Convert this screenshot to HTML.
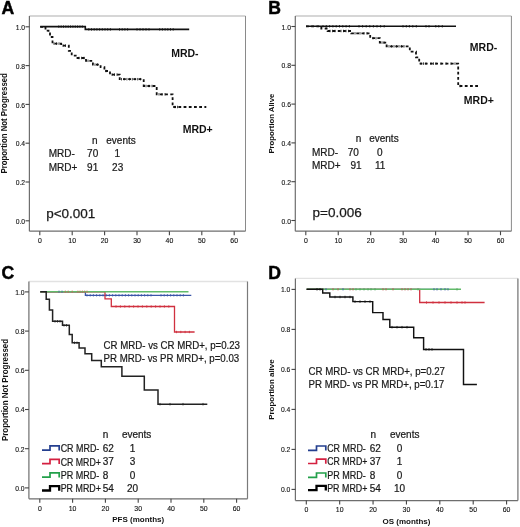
<!DOCTYPE html>
<html><head><meta charset="utf-8"><style>
html,body{margin:0;padding:0;background:#fff;}
svg{display:block;will-change:transform;}
text{font-family:"Liberation Sans", sans-serif;fill:#1a1a1a;}
.tk{font-size:6.6px;fill:#111;stroke:#111;stroke-width:0.12px;}
.let{font-size:17.6px;font-weight:bold;fill:#000;stroke:#000;stroke-width:0.45px;}
.yt{font-size:8.8px;font-weight:bold;fill:#111;}
.xt{font-size:8px;font-weight:bold;fill:#111;}
.t{font-size:10px;stroke:#1a1a1a;stroke-width:0.22px;}
.lg{font-size:10.2px;stroke:#1a1a1a;stroke-width:0.22px;}
.lb{font-size:10.5px;font-weight:bold;fill:#111;}
.pv{font-size:13.5px;stroke:#1a1a1a;stroke-width:0.25px;}
</style></head><body>
<svg width="520" height="527" viewBox="0 0 520 527">
<rect width="520" height="527" fill="#fff"/>
<line x1="29.4" y1="16" x2="245.5" y2="16" stroke="#c8c8c8" stroke-width="1.3"/>
<line x1="245.5" y1="16" x2="245.5" y2="231.2" stroke="#8a8a8a" stroke-width="1.0"/>
<line x1="29.4" y1="16" x2="29.4" y2="231.2" stroke="#6e6e6e" stroke-width="1.2"/>
<line x1="29.4" y1="231.2" x2="245.5" y2="231.2" stroke="#6e6e6e" stroke-width="1.2"/>
<line x1="25.5" y1="220.8" x2="29.4" y2="220.8" stroke="#444" stroke-width="1.1"/>
<text x="25.1" y="223.9" class="tk" style="font-size:7.2px" text-anchor="end" textLength="9.4" lengthAdjust="spacingAndGlyphs">0.0</text>
<line x1="25.5" y1="182" x2="29.4" y2="182" stroke="#444" stroke-width="1.1"/>
<text x="25.1" y="185.1" class="tk" style="font-size:7.2px" text-anchor="end" textLength="9.4" lengthAdjust="spacingAndGlyphs">0.2</text>
<line x1="25.5" y1="143.2" x2="29.4" y2="143.2" stroke="#444" stroke-width="1.1"/>
<text x="25.1" y="146.3" class="tk" style="font-size:7.2px" text-anchor="end" textLength="9.4" lengthAdjust="spacingAndGlyphs">0.4</text>
<line x1="25.5" y1="104.4" x2="29.4" y2="104.4" stroke="#444" stroke-width="1.1"/>
<text x="25.1" y="107.5" class="tk" style="font-size:7.2px" text-anchor="end" textLength="9.4" lengthAdjust="spacingAndGlyphs">0.6</text>
<line x1="25.5" y1="65.6" x2="29.4" y2="65.6" stroke="#444" stroke-width="1.1"/>
<text x="25.1" y="68.7" class="tk" style="font-size:7.2px" text-anchor="end" textLength="9.4" lengthAdjust="spacingAndGlyphs">0.8</text>
<line x1="25.5" y1="26.8" x2="29.4" y2="26.8" stroke="#444" stroke-width="1.1"/>
<text x="25.1" y="29.9" class="tk" style="font-size:7.2px" text-anchor="end" textLength="9.4" lengthAdjust="spacingAndGlyphs">1.0</text>
<line x1="39.8" y1="231.2" x2="39.8" y2="235.2" stroke="#444" stroke-width="1.1"/>
<text x="39.8" y="242.9" class="tk" style="font-size:6.9px" text-anchor="middle">0</text>
<line x1="72.2" y1="231.2" x2="72.2" y2="235.2" stroke="#444" stroke-width="1.1"/>
<text x="72.2" y="242.9" class="tk" style="font-size:6.9px" text-anchor="middle">10</text>
<line x1="104.6" y1="231.2" x2="104.6" y2="235.2" stroke="#444" stroke-width="1.1"/>
<text x="104.6" y="242.9" class="tk" style="font-size:6.9px" text-anchor="middle">20</text>
<line x1="137" y1="231.2" x2="137" y2="235.2" stroke="#444" stroke-width="1.1"/>
<text x="137" y="242.9" class="tk" style="font-size:6.9px" text-anchor="middle">30</text>
<line x1="169.4" y1="231.2" x2="169.4" y2="235.2" stroke="#444" stroke-width="1.1"/>
<text x="169.4" y="242.9" class="tk" style="font-size:6.9px" text-anchor="middle">40</text>
<line x1="201.8" y1="231.2" x2="201.8" y2="235.2" stroke="#444" stroke-width="1.1"/>
<text x="201.8" y="242.9" class="tk" style="font-size:6.9px" text-anchor="middle">50</text>
<line x1="234.2" y1="231.2" x2="234.2" y2="235.2" stroke="#444" stroke-width="1.1"/>
<text x="234.2" y="242.9" class="tk" style="font-size:6.9px" text-anchor="middle">60</text>
<text x="1.6" y="13.9" class="let">A</text>
<text x="-50.2" y="0" class="yt" style="font-size:8.2px" textLength="100.4" lengthAdjust="spacingAndGlyphs" transform="translate(7,123.3) rotate(-90)">Proportion Not Progressed</text>
<line x1="295.3" y1="16" x2="511.4" y2="16" stroke="#c8c8c8" stroke-width="1.3"/>
<line x1="511.4" y1="16" x2="511.4" y2="231.2" stroke="#8a8a8a" stroke-width="1.0"/>
<line x1="295.3" y1="16" x2="295.3" y2="231.2" stroke="#6e6e6e" stroke-width="1.2"/>
<line x1="295.3" y1="231.2" x2="511.4" y2="231.2" stroke="#6e6e6e" stroke-width="1.2"/>
<line x1="291.4" y1="220.5" x2="295.3" y2="220.5" stroke="#444" stroke-width="1.1"/>
<text x="291" y="223.6" class="tk" style="font-size:7.2px" text-anchor="end" textLength="9.4" lengthAdjust="spacingAndGlyphs">0.0</text>
<line x1="291.4" y1="181.7" x2="295.3" y2="181.7" stroke="#444" stroke-width="1.1"/>
<text x="291" y="184.8" class="tk" style="font-size:7.2px" text-anchor="end" textLength="9.4" lengthAdjust="spacingAndGlyphs">0.2</text>
<line x1="291.4" y1="142.9" x2="295.3" y2="142.9" stroke="#444" stroke-width="1.1"/>
<text x="291" y="146" class="tk" style="font-size:7.2px" text-anchor="end" textLength="9.4" lengthAdjust="spacingAndGlyphs">0.4</text>
<line x1="291.4" y1="104.1" x2="295.3" y2="104.1" stroke="#444" stroke-width="1.1"/>
<text x="291" y="107.2" class="tk" style="font-size:7.2px" text-anchor="end" textLength="9.4" lengthAdjust="spacingAndGlyphs">0.6</text>
<line x1="291.4" y1="65.3" x2="295.3" y2="65.3" stroke="#444" stroke-width="1.1"/>
<text x="291" y="68.4" class="tk" style="font-size:7.2px" text-anchor="end" textLength="9.4" lengthAdjust="spacingAndGlyphs">0.8</text>
<line x1="291.4" y1="26.5" x2="295.3" y2="26.5" stroke="#444" stroke-width="1.1"/>
<text x="291" y="29.6" class="tk" style="font-size:7.2px" text-anchor="end" textLength="9.4" lengthAdjust="spacingAndGlyphs">1.0</text>
<line x1="305.8" y1="231.2" x2="305.8" y2="235.2" stroke="#444" stroke-width="1.1"/>
<text x="305.8" y="242.9" class="tk" style="font-size:6.9px" text-anchor="middle">0</text>
<line x1="338.25" y1="231.2" x2="338.25" y2="235.2" stroke="#444" stroke-width="1.1"/>
<text x="338.25" y="242.9" class="tk" style="font-size:6.9px" text-anchor="middle">10</text>
<line x1="370.7" y1="231.2" x2="370.7" y2="235.2" stroke="#444" stroke-width="1.1"/>
<text x="370.7" y="242.9" class="tk" style="font-size:6.9px" text-anchor="middle">20</text>
<line x1="403.15" y1="231.2" x2="403.15" y2="235.2" stroke="#444" stroke-width="1.1"/>
<text x="403.15" y="242.9" class="tk" style="font-size:6.9px" text-anchor="middle">30</text>
<line x1="435.6" y1="231.2" x2="435.6" y2="235.2" stroke="#444" stroke-width="1.1"/>
<text x="435.6" y="242.9" class="tk" style="font-size:6.9px" text-anchor="middle">40</text>
<line x1="468.05" y1="231.2" x2="468.05" y2="235.2" stroke="#444" stroke-width="1.1"/>
<text x="468.05" y="242.9" class="tk" style="font-size:6.9px" text-anchor="middle">50</text>
<line x1="500.5" y1="231.2" x2="500.5" y2="235.2" stroke="#444" stroke-width="1.1"/>
<text x="500.5" y="242.9" class="tk" style="font-size:6.9px" text-anchor="middle">60</text>
<text x="268.3" y="13.9" class="let">B</text>
<text x="-30" y="0" class="yt" style="font-size:7.5px" textLength="60" lengthAdjust="spacingAndGlyphs" transform="translate(274.4,123.6) rotate(-90)">Proportion Alive</text>
<line x1="28.9" y1="281.5" x2="247.5" y2="281.5" stroke="#e2e2e2" stroke-width="1.3"/>
<line x1="247.5" y1="281.5" x2="247.5" y2="498.8" stroke="#7a7a7a" stroke-width="1.2"/>
<line x1="28.9" y1="281.5" x2="28.9" y2="498.8" stroke="#6e6e6e" stroke-width="1.2"/>
<line x1="28.9" y1="498.8" x2="247.5" y2="498.8" stroke="#6e6e6e" stroke-width="1.2"/>
<line x1="25" y1="487.9" x2="28.9" y2="487.9" stroke="#444" stroke-width="1.1"/>
<text x="24.6" y="490.7" class="tk" style="font-size:7.2px" text-anchor="end" textLength="9.4" lengthAdjust="spacingAndGlyphs">0.0</text>
<line x1="25" y1="448.7" x2="28.9" y2="448.7" stroke="#444" stroke-width="1.1"/>
<text x="24.6" y="451.5" class="tk" style="font-size:7.2px" text-anchor="end" textLength="9.4" lengthAdjust="spacingAndGlyphs">0.2</text>
<line x1="25" y1="409.5" x2="28.9" y2="409.5" stroke="#444" stroke-width="1.1"/>
<text x="24.6" y="412.3" class="tk" style="font-size:7.2px" text-anchor="end" textLength="9.4" lengthAdjust="spacingAndGlyphs">0.4</text>
<line x1="25" y1="370.3" x2="28.9" y2="370.3" stroke="#444" stroke-width="1.1"/>
<text x="24.6" y="373.1" class="tk" style="font-size:7.2px" text-anchor="end" textLength="9.4" lengthAdjust="spacingAndGlyphs">0.6</text>
<line x1="25" y1="331.1" x2="28.9" y2="331.1" stroke="#444" stroke-width="1.1"/>
<text x="24.6" y="333.9" class="tk" style="font-size:7.2px" text-anchor="end" textLength="9.4" lengthAdjust="spacingAndGlyphs">0.8</text>
<line x1="25" y1="291.9" x2="28.9" y2="291.9" stroke="#444" stroke-width="1.1"/>
<text x="24.6" y="294.7" class="tk" style="font-size:7.2px" text-anchor="end" textLength="9.4" lengthAdjust="spacingAndGlyphs">1.0</text>
<line x1="39.8" y1="498.8" x2="39.8" y2="502.8" stroke="#444" stroke-width="1.1"/>
<text x="39.8" y="510.5" class="tk" style="font-size:6.9px" text-anchor="middle">0</text>
<line x1="72.6" y1="498.8" x2="72.6" y2="502.8" stroke="#444" stroke-width="1.1"/>
<text x="72.6" y="510.5" class="tk" style="font-size:6.9px" text-anchor="middle">10</text>
<line x1="105.4" y1="498.8" x2="105.4" y2="502.8" stroke="#444" stroke-width="1.1"/>
<text x="105.4" y="510.5" class="tk" style="font-size:6.9px" text-anchor="middle">20</text>
<line x1="138.2" y1="498.8" x2="138.2" y2="502.8" stroke="#444" stroke-width="1.1"/>
<text x="138.2" y="510.5" class="tk" style="font-size:6.9px" text-anchor="middle">30</text>
<line x1="171" y1="498.8" x2="171" y2="502.8" stroke="#444" stroke-width="1.1"/>
<text x="171" y="510.5" class="tk" style="font-size:6.9px" text-anchor="middle">40</text>
<line x1="203.8" y1="498.8" x2="203.8" y2="502.8" stroke="#444" stroke-width="1.1"/>
<text x="203.8" y="510.5" class="tk" style="font-size:6.9px" text-anchor="middle">50</text>
<line x1="236.6" y1="498.8" x2="236.6" y2="502.8" stroke="#444" stroke-width="1.1"/>
<text x="236.6" y="510.5" class="tk" style="font-size:6.9px" text-anchor="middle">60</text>
<text x="1.4" y="278.9" class="let">C</text>
<text x="-51.1" y="0" class="yt" style="font-size:8.2px" textLength="102.2" lengthAdjust="spacingAndGlyphs" transform="translate(7.7,390) rotate(-90)">Proportion Not Progressed</text>
<text x="138.2" y="522.3" class="xt" text-anchor="middle">PFS (months)</text>
<line x1="295.4" y1="278.4" x2="517.9" y2="278.4" stroke="#e2e2e2" stroke-width="1.3"/>
<line x1="517.9" y1="278.4" x2="517.9" y2="500.6" stroke="#7a7a7a" stroke-width="1.3"/>
<line x1="295.4" y1="278.4" x2="295.4" y2="500.6" stroke="#6e6e6e" stroke-width="1.2"/>
<line x1="295.4" y1="500.6" x2="517.9" y2="500.6" stroke="#6e6e6e" stroke-width="1.2"/>
<line x1="291.5" y1="489.4" x2="295.4" y2="489.4" stroke="#444" stroke-width="1.1"/>
<text x="290.3" y="492.2" class="tk" style="font-size:7.2px" text-anchor="end" textLength="9.4" lengthAdjust="spacingAndGlyphs">0.0</text>
<line x1="291.5" y1="449.4" x2="295.4" y2="449.4" stroke="#444" stroke-width="1.1"/>
<text x="290.3" y="452.2" class="tk" style="font-size:7.2px" text-anchor="end" textLength="9.4" lengthAdjust="spacingAndGlyphs">0.2</text>
<line x1="291.5" y1="409.4" x2="295.4" y2="409.4" stroke="#444" stroke-width="1.1"/>
<text x="290.3" y="412.2" class="tk" style="font-size:7.2px" text-anchor="end" textLength="9.4" lengthAdjust="spacingAndGlyphs">0.4</text>
<line x1="291.5" y1="369.4" x2="295.4" y2="369.4" stroke="#444" stroke-width="1.1"/>
<text x="290.3" y="372.2" class="tk" style="font-size:7.2px" text-anchor="end" textLength="9.4" lengthAdjust="spacingAndGlyphs">0.6</text>
<line x1="291.5" y1="329.4" x2="295.4" y2="329.4" stroke="#444" stroke-width="1.1"/>
<text x="290.3" y="332.2" class="tk" style="font-size:7.2px" text-anchor="end" textLength="9.4" lengthAdjust="spacingAndGlyphs">0.8</text>
<line x1="291.5" y1="289.4" x2="295.4" y2="289.4" stroke="#444" stroke-width="1.1"/>
<text x="290.3" y="292.2" class="tk" style="font-size:7.2px" text-anchor="end" textLength="9.4" lengthAdjust="spacingAndGlyphs">1.0</text>
<line x1="306.3" y1="500.6" x2="306.3" y2="504.6" stroke="#444" stroke-width="1.1"/>
<text x="306.3" y="512.3" class="tk" style="font-size:6.9px" text-anchor="middle">0</text>
<line x1="339.68" y1="500.6" x2="339.68" y2="504.6" stroke="#444" stroke-width="1.1"/>
<text x="339.68" y="512.3" class="tk" style="font-size:6.9px" text-anchor="middle">10</text>
<line x1="373.06" y1="500.6" x2="373.06" y2="504.6" stroke="#444" stroke-width="1.1"/>
<text x="373.06" y="512.3" class="tk" style="font-size:6.9px" text-anchor="middle">20</text>
<line x1="406.44" y1="500.6" x2="406.44" y2="504.6" stroke="#444" stroke-width="1.1"/>
<text x="406.44" y="512.3" class="tk" style="font-size:6.9px" text-anchor="middle">30</text>
<line x1="439.82" y1="500.6" x2="439.82" y2="504.6" stroke="#444" stroke-width="1.1"/>
<text x="439.82" y="512.3" class="tk" style="font-size:6.9px" text-anchor="middle">40</text>
<line x1="473.2" y1="500.6" x2="473.2" y2="504.6" stroke="#444" stroke-width="1.1"/>
<text x="473.2" y="512.3" class="tk" style="font-size:6.9px" text-anchor="middle">50</text>
<line x1="506.58" y1="500.6" x2="506.58" y2="504.6" stroke="#444" stroke-width="1.1"/>
<text x="506.58" y="512.3" class="tk" style="font-size:6.9px" text-anchor="middle">60</text>
<text x="268.2" y="279.2" class="let">D</text>
<text x="-30.2" y="0" class="yt" style="font-size:7.5px" textLength="60.4" lengthAdjust="spacingAndGlyphs" transform="translate(274.3,389.6) rotate(-90)">Proportion alive</text>
<text x="406.44" y="524.1" class="xt" text-anchor="middle">OS (months)</text>
<path d="M40.2,26.6H85.3V29.4H189.2" fill="none" stroke="#111" stroke-width="1.6"/>
<path d="M40.2,26.8H45.5V30.7H48.5V33.5H50V37H52.5V43.6H61.2V45.6H68.8V50.8H71.7V55.6H77.5V58H86V60.8H92.9V64.6H100.6V67.2H104.4V71H110V74.6H119.7V79.2H143.7V86H156.7V94.3H172.6V107H206.3" fill="none" stroke="#111" stroke-width="1.8" stroke-dasharray="2.8 2.4"/>
<path d="M306,26.25H456" fill="none" stroke="#111" stroke-width="1.6"/>
<path d="M306,26.4H321.3V28.5H327.6V31H351.2V33.3H370.2V38.2H379.8V42.6H386.6V46.3H409.8V51.7H416V57.4H419.2V63.6H458.2V86H478.7" fill="none" stroke="#111" stroke-width="1.8" stroke-dasharray="2.8 2.4"/>
<path d="M40.2,291.8H85.4V295.3H191.3" fill="none" stroke="#3a56a8" stroke-width="1.3"/>
<path d="M40.2,291.9H105V298.8H111.3V306.5H174.5V332H194.6" fill="none" stroke="#d0303f" stroke-width="1.3"/>
<path d="M40.2,291.7H188.5" fill="none" stroke="#62bb6a" stroke-width="1.5"/>
<path d="M40.3,291.7H46.2V299.3H49.4V310.1H52.6V321.3H62.5V325.3H69.3V334.4H72.2V342.8H79.1V347.9H85V353.7H91.7V360.4H101.3V366.7H121.9V376.2H144.3V389.9H158V404.2H207.3" fill="none" stroke="#222" stroke-width="1.5"/>
<path d="M306.5,289.4H447.5" fill="none" stroke="#3a56a8" stroke-width="1.3"/>
<path d="M306.5,289.4H419.7V302.5H484.6" fill="none" stroke="#d0303f" stroke-width="1.3"/>
<path d="M306.5,289.3H461" fill="none" stroke="#62bb6a" stroke-width="1.5"/>
<path d="M306.7,289.3H322.7V293H329.8V297H352.9V301.6H372.7V312.6H383V319.5H389.8V327.2H413.7V337.8H423.6V349.4H463.5V384.4H476.9" fill="none" stroke="#111" stroke-width="1.45"/>
<path d="M58.8,25.35V27.85M61.15,25.35V27.85M63.5,25.35V27.85M65.85,25.35V27.85M68.2,25.35V27.85M70.55,25.35V27.85M72.9,25.35V27.85M75.25,25.35V27.85M77.6,25.35V27.85M79.95,25.35V27.85M82.3,25.35V27.85" stroke="#111" stroke-width="0.8" fill="none"/>
<path d="M88.8,28.15V30.65M91.5,28.15V30.65M94.2,28.15V30.65M96.9,28.15V30.65M99.6,28.15V30.65M102.3,28.15V30.65M105,28.15V30.65M107.7,28.15V30.65M110.4,28.15V30.65" stroke="#111" stroke-width="0.8" fill="none"/>
<path d="M119.5,28.15V30.65M122.2,28.15V30.65M124.9,28.15V30.65M127.6,28.15V30.65" stroke="#111" stroke-width="0.8" fill="none"/>
<path d="M137,28.15V30.65M140,28.15V30.65M143,28.15V30.65M146,28.15V30.65M149,28.15V30.65" stroke="#111" stroke-width="0.8" fill="none"/>
<path d="M159.7,28.15V30.65M162.4,28.15V30.65M165.1,28.15V30.65M167.8,28.15V30.65M170.5,28.15V30.65M173.2,28.15V30.65" stroke="#111" stroke-width="0.8" fill="none"/>
<path d="M54,42.35V44.85M56.5,42.35V44.85M59,42.35V44.85" stroke="#111" stroke-width="0.8" fill="none"/>
<path d="M63,44.35V46.85M65.5,44.35V46.85" stroke="#111" stroke-width="0.8" fill="none"/>
<path d="M79,56.75V59.25M81.5,56.75V59.25M84,56.75V59.25" stroke="#111" stroke-width="0.8" fill="none"/>
<path d="M88,59.55V62.05" stroke="#111" stroke-width="0.8" fill="none"/>
<path d="M95,63.35V65.85M97.5,63.35V65.85" stroke="#111" stroke-width="0.8" fill="none"/>
<path d="M106,69.75V72.25" stroke="#111" stroke-width="0.8" fill="none"/>
<path d="M112,73.35V75.85M114.5,73.35V75.85M117,73.35V75.85" stroke="#111" stroke-width="0.8" fill="none"/>
<path d="M121.5,77.95V80.45M124.2,77.95V80.45M126.9,77.95V80.45M129.6,77.95V80.45M132.3,77.95V80.45M135,77.95V80.45M137.7,77.95V80.45M140.4,77.95V80.45" stroke="#111" stroke-width="0.8" fill="none"/>
<path d="M146,84.75V87.25M149,84.75V87.25M152,84.75V87.25" stroke="#111" stroke-width="0.8" fill="none"/>
<path d="M159,93.05V95.55M162,93.05V95.55M165,93.05V95.55" stroke="#111" stroke-width="0.8" fill="none"/>
<path d="M175,105.75V108.25M177.5,105.75V108.25" stroke="#111" stroke-width="0.8" fill="none"/>
<path d="M323,25V27.5M326.3,25V27.5M329.6,25V27.5M332.9,25V27.5M336.2,25V27.5M339.5,25V27.5M342.8,25V27.5M346.1,25V27.5M349.4,25V27.5" stroke="#111" stroke-width="0.8" fill="none"/>
<path d="M359,25V27.5M362.6,25V27.5M366.2,25V27.5M369.8,25V27.5M373.4,25V27.5M377,25V27.5M380.6,25V27.5M384.2,25V27.5" stroke="#111" stroke-width="0.8" fill="none"/>
<path d="M403,25V27.5M406.3,25V27.5M409.4,25V27.5M412.8,25V27.5M416.3,25V27.5M426,25V27.5M429,25V27.5M435.8,25V27.5M438.8,25V27.5M442.3,25V27.5" stroke="#111" stroke-width="0.8" fill="none"/>
<path d="M330,29.75V32.25M332.5,29.75V32.25M335,29.75V32.25M341,29.75V32.25M343.5,29.75V32.25M346,29.75V32.25M348.5,29.75V32.25" stroke="#111" stroke-width="0.8" fill="none"/>
<path d="M355,32.05V34.55M360,32.05V34.55M364,32.05V34.55M367,32.05V34.55" stroke="#111" stroke-width="0.8" fill="none"/>
<path d="M373,36.95V39.45M376,36.95V39.45" stroke="#111" stroke-width="0.8" fill="none"/>
<path d="M382,41.35V43.85M384,41.35V43.85" stroke="#111" stroke-width="0.8" fill="none"/>
<path d="M389,45.05V47.55M391.5,45.05V47.55M394,45.05V47.55M396.5,45.05V47.55M399,45.05V47.55M401.5,45.05V47.55M404,45.05V47.55" stroke="#111" stroke-width="0.8" fill="none"/>
<path d="M421,62.35V64.85M423.5,62.35V64.85M426,62.35V64.85M431,62.35V64.85M433.5,62.35V64.85M436,62.35V64.85M441,62.35V64.85M446,62.35V64.85M451,62.35V64.85M455,62.35V64.85" stroke="#111" stroke-width="0.8" fill="none"/>
<path d="M460,84.75V87.25" stroke="#111" stroke-width="0.8" fill="none"/>
<path d="M59,290.5V292.9M62,290.5V292.9" stroke="#4a68a8" stroke-width="0.8" fill="none"/>
<path d="M65.3,290.5V292.9M68.2,290.5V292.9M72.2,290.5V292.9" stroke="#c07050" stroke-width="0.8" fill="none"/>
<path d="M77.9,290.5V292.9M80,290.5V292.9M82.4,290.5V292.9M84.7,290.5V292.9M87,290.5V292.9" stroke="#c07050" stroke-width="0.8" fill="none"/>
<path d="M87,294.1V296.5M90.2,294.1V296.5M93.4,294.1V296.5M96.6,294.1V296.5M99.8,294.1V296.5M103,294.1V296.5M106.2,294.1V296.5M109.4,294.1V296.5M112.6,294.1V296.5M115.8,294.1V296.5M119,294.1V296.5M122.2,294.1V296.5M125.4,294.1V296.5M128.6,294.1V296.5M131.8,294.1V296.5M135,294.1V296.5M138.2,294.1V296.5M141.4,294.1V296.5M144.6,294.1V296.5M147.8,294.1V296.5M151,294.1V296.5" stroke="#3a56a8" stroke-width="0.8" fill="none"/>
<path d="M161,294.1V296.5M164.2,294.1V296.5M167.4,294.1V296.5M170.6,294.1V296.5M173.8,294.1V296.5M177,294.1V296.5M180.2,294.1V296.5M183.4,294.1V296.5" stroke="#3a56a8" stroke-width="0.8" fill="none"/>
<path d="M116,305.3V307.7M120.4,305.3V307.7M124.8,305.3V307.7M129.2,305.3V307.7M133.6,305.3V307.7M138,305.3V307.7M142.4,305.3V307.7M146.8,305.3V307.7M151.2,305.3V307.7M155.6,305.3V307.7M160,305.3V307.7M164.4,305.3V307.7M168.8,305.3V307.7" stroke="#d0303f" stroke-width="0.8" fill="none"/>
<path d="M176.5,330.8V333.2M180.8,330.8V333.2M185.1,330.8V333.2M189.4,330.8V333.2" stroke="#d0303f" stroke-width="0.8" fill="none"/>
<path d="M55,320.05V322.55M57.5,320.05V322.55M60,320.05V322.55" stroke="#222" stroke-width="0.8" fill="none"/>
<path d="M64,324.05V326.55M66.5,324.05V326.55" stroke="#222" stroke-width="0.8" fill="none"/>
<path d="M74.5,341.55V344.05M77,341.55V344.05" stroke="#222" stroke-width="0.8" fill="none"/>
<path d="M160,402.95V405.45M170,402.95V405.45M183,402.95V405.45M203,402.95V405.45" stroke="#222" stroke-width="0.8" fill="none"/>
<path d="M333,288.1V290.5M338,288.1V290.5M350,288.1V290.5M353,288.1V290.5M383,288.1V290.5M386,288.1V290.5M393,288.1V290.5M402,288.1V290.5M405,288.1V290.5M408,288.1V290.5M411,288.1V290.5" stroke="#c05050" stroke-width="0.8" fill="none"/>
<path d="M326,288.1V290.5M343,288.1V290.5M434,288.1V290.5M437,288.1V290.5M441,288.1V290.5M445,288.1V290.5M448,288.1V290.5" stroke="#3a56a8" stroke-width="0.8" fill="none"/>
<path d="M356,288.1V290.5M360,288.1V290.5M364,288.1V290.5M368,288.1V290.5M371,288.1V290.5M375,288.1V290.5M418,288.1V290.5M457,288.1V290.5" stroke="#50a060" stroke-width="0.8" fill="none"/>
<path d="M426.5,301.3V303.7M433,301.3V303.7M439,301.3V303.7M445,301.3V303.7M451,301.3V303.7M457,301.3V303.7M462,301.3V303.7M465,301.3V303.7" stroke="#d0303f" stroke-width="0.8" fill="none"/>
<path d="M335,295.75V298.25M340,295.75V298.25M345,295.75V298.25M350,295.75V298.25" stroke="#111" stroke-width="0.8" fill="none"/>
<path d="M355,300.35V302.85M360,300.35V302.85M365,300.35V302.85M370,300.35V302.85" stroke="#111" stroke-width="0.8" fill="none"/>
<path d="M392,325.95V328.45M397,325.95V328.45M402,325.95V328.45M407,325.95V328.45" stroke="#111" stroke-width="0.8" fill="none"/>
<path d="M426,348.15V350.65M429,348.15V350.65M432,348.15V350.65" stroke="#111" stroke-width="0.8" fill="none"/>
<path d="M317,288.05V290.55M320,288.05V290.55" stroke="#111" stroke-width="0.8" fill="none"/>
<text x="171.2" y="57.1" class="lb" text-anchor="start">MRD-</text>
<text x="182.7" y="133.1" class="lb" text-anchor="start">MRD+</text>
<text x="91.9" y="143.8" class="t" text-anchor="start">n</text>
<text x="106.3" y="143.8" class="t" text-anchor="start">events</text>
<text x="48.7" y="157.2" class="t" text-anchor="start">MRD-</text>
<text x="87.1" y="157.2" class="t" text-anchor="start">70</text>
<text x="114.5" y="157.2" class="t" text-anchor="start">1</text>
<text x="48.7" y="170.7" class="t" text-anchor="start">MRD+</text>
<text x="87.1" y="170.7" class="t" text-anchor="start">91</text>
<text x="112.1" y="170.7" class="t" text-anchor="start">23</text>
<text x="46.2" y="218.1" class="pv" text-anchor="start">p&lt;0.001</text>
<text x="469.8" y="51.2" class="lb" text-anchor="start">MRD-</text>
<text x="463.8" y="104.2" class="lb" text-anchor="start">MRD+</text>
<text x="355.8" y="141.8" class="t" text-anchor="start">n</text>
<text x="369.2" y="141.8" class="t" text-anchor="start">events</text>
<text x="311.9" y="155.7" class="t" text-anchor="start">MRD-</text>
<text x="347.7" y="155.7" class="t" text-anchor="start">70</text>
<text x="377" y="155.7" class="t" text-anchor="start">0</text>
<text x="311.9" y="168.8" class="t" text-anchor="start">MRD+</text>
<text x="350.4" y="168.8" class="t" text-anchor="start">91</text>
<text x="375" y="168.8" class="t" text-anchor="start">11</text>
<text x="312.6" y="216.8" class="pv" text-anchor="start">p=0.006</text>
<text x="103.6" y="349.2" class="t" text-anchor="start" textLength="136.4" lengthAdjust="spacingAndGlyphs">CR MRD- vs CR MRD+, p=0.23</text>
<text x="103.6" y="362.4" class="t" text-anchor="start" textLength="135.6" lengthAdjust="spacingAndGlyphs">PR MRD- vs PR MRD+, p=0.03</text>
<text x="308.6" y="375.4" class="t" text-anchor="start" textLength="136.4" lengthAdjust="spacingAndGlyphs">CR MRD- vs CR MRD+, p=0.27</text>
<text x="308.6" y="388.4" class="t" text-anchor="start" textLength="135.6" lengthAdjust="spacingAndGlyphs">PR MRD- vs PR MRD+, p=0.17</text>
<text x="102.7" y="437.9" class="t" text-anchor="start">n</text>
<text x="121.9" y="437.9" class="t" text-anchor="start">events</text>
<path d="M42,450.2H50V445.9H59.2V450.5" fill="none" stroke="#243f8f" stroke-width="1.7"/>
<text x="60.7" y="452.1" class="lg" text-anchor="start" textLength="38.6" lengthAdjust="spacingAndGlyphs">CR MRD-</text>
<text x="102.7" y="451.7" class="t" text-anchor="start">62</text>
<text x="132.5" y="451.7" class="t" text-anchor="middle">1</text>
<path d="M42,463.7H50V459.4H59.2V464" fill="none" stroke="#d42040" stroke-width="1.7"/>
<text x="60.7" y="465.6" class="lg" text-anchor="start" textLength="40.2" lengthAdjust="spacingAndGlyphs">CR MRD+</text>
<text x="102.7" y="465.2" class="t" text-anchor="start">37</text>
<text x="132.5" y="465.2" class="t" text-anchor="middle">3</text>
<path d="M42,477.2H50V472.9H59.2V477.5" fill="none" stroke="#22a04a" stroke-width="1.7"/>
<text x="60.7" y="479.1" class="lg" text-anchor="start" textLength="38.6" lengthAdjust="spacingAndGlyphs">PR MRD-</text>
<text x="102.7" y="478.7" class="t" text-anchor="start">8</text>
<text x="132.5" y="478.7" class="t" text-anchor="middle">0</text>
<path d="M42,490.5H50V486.2H59.2V490.8" fill="none" stroke="#000" stroke-width="2.3"/>
<text x="60.7" y="492.4" class="lg" text-anchor="start" textLength="40.2" lengthAdjust="spacingAndGlyphs">PR MRD+</text>
<text x="102.7" y="492" class="t" text-anchor="start">54</text>
<text x="132.5" y="492" class="t" text-anchor="middle">20</text>
<text x="370.4" y="438" class="t" text-anchor="start">n</text>
<text x="390" y="438" class="t" text-anchor="start">events</text>
<path d="M308,450.3H316.5V446H325.8V450.6" fill="none" stroke="#243f8f" stroke-width="1.7"/>
<text x="327.2" y="452.2" class="lg" text-anchor="start" textLength="38.6" lengthAdjust="spacingAndGlyphs">CR MRD-</text>
<text x="369.7" y="451.8" class="t" text-anchor="start">62</text>
<text x="399.6" y="451.8" class="t" text-anchor="middle">0</text>
<path d="M308,463.5H316.5V459.2H325.8V463.8" fill="none" stroke="#d42040" stroke-width="1.7"/>
<text x="327.2" y="465.4" class="lg" text-anchor="start" textLength="40.2" lengthAdjust="spacingAndGlyphs">CR MRD+</text>
<text x="369.7" y="465" class="t" text-anchor="start">37</text>
<text x="399.6" y="465" class="t" text-anchor="middle">1</text>
<path d="M308,477.3H316.5V473H325.8V477.6" fill="none" stroke="#22a04a" stroke-width="1.7"/>
<text x="327.2" y="479.2" class="lg" text-anchor="start" textLength="38.6" lengthAdjust="spacingAndGlyphs">PR MRD-</text>
<text x="369.7" y="478.8" class="t" text-anchor="start">8</text>
<text x="399.6" y="478.8" class="t" text-anchor="middle">0</text>
<path d="M308,490.1H316.5V485.8H325.8V490.4" fill="none" stroke="#000" stroke-width="2.3"/>
<text x="327.2" y="492" class="lg" text-anchor="start" textLength="40.2" lengthAdjust="spacingAndGlyphs">PR MRD+</text>
<text x="369.7" y="491.6" class="t" text-anchor="start">54</text>
<text x="399.6" y="491.6" class="t" text-anchor="middle">10</text>
</svg>
</body></html>
